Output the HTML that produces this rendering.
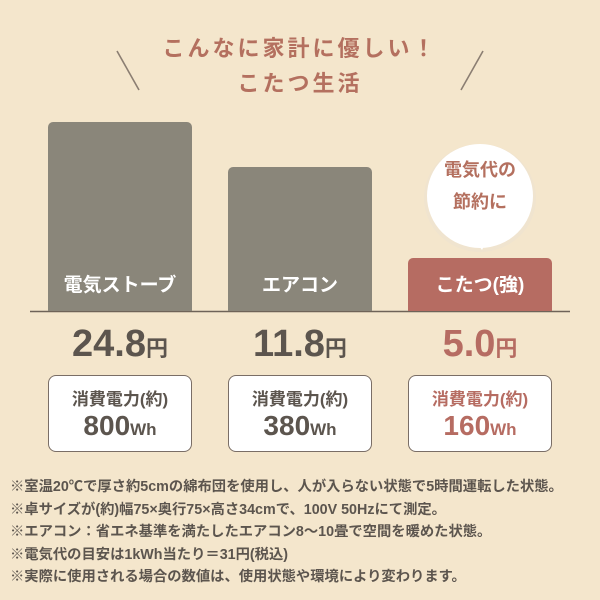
<!DOCTYPE html>
<html><head><meta charset="utf-8"><style>
body{margin:0;width:600px;height:600px;background:#f4e6cc;position:relative;overflow:hidden;font-family:"Liberation Sans","Noto Sans CJK JP",sans-serif;color:#5c554e}
.a{position:absolute}
.t{left:0;width:600px;text-align:center;color:#b4705f;font-size:22px;font-weight:bold;letter-spacing:3px}
.bar{position:absolute;border-radius:5px 5px 0 0;background:#8a867a;color:#fff;font-weight:bold;font-size:19px;text-align:center;box-sizing:border-box}
.bar span{position:absolute;left:0;right:0;bottom:14px}
.price{position:absolute;width:144px;text-align:center;font-weight:bold;font-size:38px;top:322px;line-height:44px}
.price small{font-size:22px}
.box{position:absolute;top:375px;width:144px;height:77px;box-sizing:border-box;border:1.5px solid #7a6e66;border-radius:8px;background:#fff;text-align:center}
.box .l{font-size:17px;font-weight:bold;margin-top:14px;line-height:20px}
.box .v{font-size:28px;font-weight:bold;line-height:32px}
.box .v small{font-size:17px}
.notes{left:10px;top:476px;font-size:14.3px;line-height:22.5px;font-weight:bold;color:#5c554e;white-space:nowrap}
</style></head><body>
<div class="a t" style="top:31px">こんなに家計に優しい！</div>
<div class="a t" style="top:66px">こたつ生活</div>
<svg class="a" style="left:0;top:0" width="600" height="320">
<line x1="117" y1="51" x2="139" y2="90" stroke="#8b7e72" stroke-width="1.6"/>
<line x1="483" y1="51" x2="461" y2="90" stroke="#8b7e72" stroke-width="1.6"/>
<ellipse cx="480" cy="198" rx="56" ry="54" fill="#f0e4cf"/>
<path d="M472 236 L482 250 L490 234 Z" fill="#fff"/>
<ellipse cx="480" cy="196" rx="53" ry="52" fill="#fff"/>
<line x1="30" y1="311.5" x2="570" y2="311.5" stroke="#6e6358" stroke-width="1.5"/>
</svg>
<div class="a" style="left:428px;top:154px;width:104px;text-align:center;color:#b4705f;font-weight:bold;font-size:18px;line-height:32px">電気代の<br>節約に</div>
<div class="bar" style="left:48px;top:122px;width:144px;height:189px"><span>電気ストーブ</span></div>
<div class="bar" style="left:228px;top:167px;width:144px;height:144px"><span>エアコン</span></div>
<div class="bar" style="left:408px;top:258px;width:144px;height:53px;background:#b66c62"><span>こたつ(強)</span></div>
<div class="price" style="left:48px">24.8<small>円</small></div>
<div class="price" style="left:228px">11.8<small>円</small></div>
<div class="price" style="left:408px;color:#b66c62">5.0<small>円</small></div>
<div class="box" style="left:48px"><div class="l">消費電力(約)</div><div class="v">800<small>Wh</small></div></div>
<div class="box" style="left:228px"><div class="l">消費電力(約)</div><div class="v">380<small>Wh</small></div></div>
<div class="box" style="left:408px;color:#b66c62"><div class="l">消費電力(約)</div><div class="v">160<small>Wh</small></div></div>
<div class="a notes">※室温20℃で厚さ約5cmの綿布団を使用し、人が入らない状態で5時間運転した状態。<br>※卓サイズが(約)幅75×奥行75×高さ34cmで、100V 50Hzにて測定。<br>※エアコン：省エネ基準を満たしたエアコン8〜10畳で空間を暖めた状態。<br>※電気代の目安は1kWh当たり＝31円(税込)<br>※実際に使用される場合の数値は、使用状態や環境により変わります。</div>
</body></html>
